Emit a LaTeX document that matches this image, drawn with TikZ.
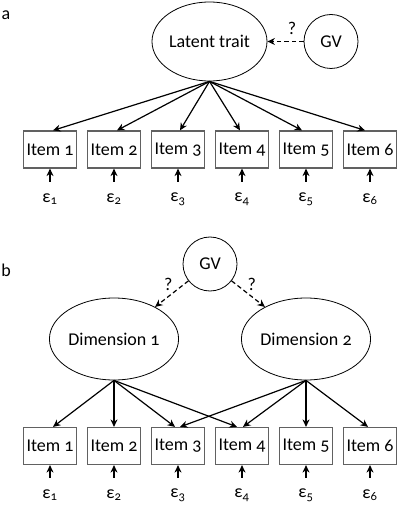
\documentclass[tikz,border=0pt]{standalone}
\usepackage{fontspec}
\setmainfont{Carlito}[Numbers=OldStyle]
\usetikzlibrary{arrows.meta,shapes.geometric}
\tikzset{
  every node/.style={font=\fontsize{18}{20}\selectfont},
  itembox/.style={draw=black!62, line width=1.2pt, minimum width=53, minimum height=37, inner sep=1.5pt},
  latent/.style={draw, ellipse, line width=0.8pt, minimum width=115, minimum height=79, inner sep=0pt},
  dimbox/.style={draw, ellipse, line width=0.8pt, minimum width=112, minimum height=82, inner sep=0pt},
  gvnode/.style={draw, circle, line width=0.8pt, minimum size=54, inner sep=0pt},
  errnode/.style={inner sep=0pt, minimum height=34},
  arr/.style={-{Stealth[length=7.5pt,width=7pt]}, line width=1.2pt},
  darr/.style={arr, dash pattern=on 4.5pt off 3pt},
  panel/.style={inner sep=0pt}
}
\begin{document}
\begin{tikzpicture}[x=1pt,y=-1pt]
\useasboundingbox (0,0) rectangle (401,510);
% panel a
\node[panel] (la) at (6,15) {a};
\node[latent] (lt) at (209.5,41.5) {Latent trait};
\node[gvnode] (gva) at (331,41.5) {GV};
\draw[darr] (gva) -- (lt) node[pos=0.32, above=3pt] {?};
\foreach \i/\x in {1/50,2/114,3/178,4/242,5/306,6/370}{
  \node[itembox] (a\i) at (\x,149.5) {Item \i};
  \node[errnode] (ea\i) at (\x,199) {ε\textsubscript{\i}};
  \draw[arr] (ea\i) -- (a\i);
}
\draw[arr] (lt.south) -- ([xshift=3]a1.north);
\draw[arr] (lt.south) -- ([xshift=3]a2.north);
\draw[arr] (lt.south) -- ([xshift=2]a3.north);
\draw[arr] (lt.south) -- ([xshift=-2]a4.north);
\draw[arr] (lt.south) -- ([xshift=-4]a5.north);
\draw[arr] (lt.south) -- ([xshift=-5]a6.north);
% panel b
\node[panel] (lb) at (6,270) {b};
\node[gvnode] (gvb) at (210,264) {GV};
\node[dimbox] (d1) at (114,339) {Dimension 1};
\node[dimbox] (d2) at (306,339) {Dimension 2};
\draw[darr] (gvb) -- (d1) node[pos=0.12, left=8pt] {?};
\draw[darr] (gvb) -- (d2) node[pos=0.12, right=8pt] {?};
\foreach \i/\x in {1/50,2/114,3/178,4/242,5/306,6/370}{
  \node[itembox] (b\i) at (\x,446) {Item \i};
  \node[errnode] (eb\i) at (\x,495) {ε\textsubscript{\i}};
  \draw[arr] (eb\i) -- (b\i);
}
\draw[arr] (d1.south) -- ([xshift=3]b1.north);
\draw[arr] (d1.south) -- (b2.north);
\draw[arr] (d1.south) -- ([xshift=-3]b3.north);
\draw[arr] (d1.south) -- ([xshift=-5]b4.north);
\draw[arr] (d2.south) -- ([xshift=2]b3.north);
\draw[arr] (d2.south) -- ([xshift=1]b4.north);
\draw[arr] (d2.south) -- (b5.north);
\draw[arr] (d2.south) -- ([xshift=-2]b6.north);
\end{tikzpicture}
\end{document}
